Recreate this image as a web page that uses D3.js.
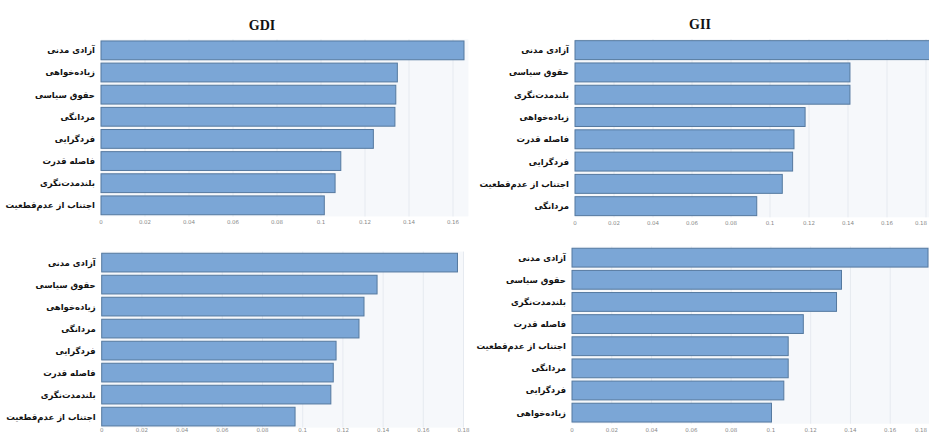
<!DOCTYPE html>
<html>
<head>
<meta charset="utf-8">
<script src="https://cdn.jsdelivr.net/npm/d3@7"></script>
<style>
  html, body { margin: 0; padding: 0; background: #ffffff; }
  svg { display: block; }
</style>
</head>
<body>
<svg id="chart" width="929" height="433"></svg>
<script>
// ---------- DATA ----------
const titleTopLeft = "GDI";
const titleTopRight = "GII";

const catsTopLeft = ["آزادی مدنی", "زیاده\u200cخواهی", "حقوق سیاسی", "مردانگی", "فردگرایی", "فاصله قدرت", "بلندمدت\u200cنگری", "اجتناب از عدم\u200cقطعیت"];
const valsTopLeft = [0.165, 0.1347, 0.134, 0.1336, 0.1238, 0.109, 0.1064, 0.1015];
const ticksTopLeft = [0, 0.02, 0.04, 0.06, 0.08, 0.1, 0.12, 0.14, 0.16];

const catsTopRight = ["آزادی مدنی", "حقوق سیاسی", "بلندمدت\u200cنگری", "زیاده\u200cخواهی", "فاصله قدرت", "فردگرایی", "اجتناب از عدم\u200cقطعیت", "مردانگی"];
const valsTopRight = [0.19, 0.141, 0.141, 0.118, 0.1123, 0.1116, 0.1063, 0.0932];
const ticksTopRight = [0, 0.02, 0.04, 0.06, 0.08, 0.1, 0.12, 0.14, 0.16, 0.18];

const catsBottomLeft = ["آزادی مدنی", "حقوق سیاسی", "زیاده\u200cخواهی", "مردانگی", "فردگرایی", "فاصله قدرت", "بلندمدت\u200cنگری", "اجتناب از عدم\u200cقطعیت"];
const valsBottomLeft = [0.177, 0.137, 0.1305, 0.128, 0.1166, 0.1152, 0.114, 0.0962];
const ticksBottomLeft = [0, 0.02, 0.04, 0.06, 0.08, 0.1, 0.12, 0.14, 0.16, 0.18];

const catsBottomRight = ["آزادی مدنی", "حقوق سیاسی", "بلندمدت\u200cنگری", "فاصله قدرت", "اجتناب از عدم\u200cقطعیت", "مردانگی", "فردگرایی", "زیاده\u200cخواهی"];
const valsBottomRight = [0.179, 0.1355, 0.133, 0.1163, 0.1087, 0.1087, 0.1065, 0.1003];
const ticksBottomRight = [0, 0.02, 0.04, 0.06, 0.08, 0.1, 0.12, 0.14, 0.16, 0.18];

// ---------- LAYOUT ----------
const W = 929, H = 433;
const panels = [
  { cats: catsTopLeft, vals: valsTopLeft, ticks: ticksTopLeft, xDomain: [0, 0.167], xRange: [101, 468.4], yRange: [39.3, 216.4], title: titleTopLeft, titleX: 262, titleY: 30 },
  { cats: catsTopRight, vals: valsTopRight, ticks: ticksTopRight, xDomain: [0, 0.2], xRange: [575, 965], yRange: [39.0, 217.3], title: titleTopRight, titleX: 700, titleY: 29 },
  { cats: catsBottomLeft, vals: valsBottomLeft, ticks: ticksBottomLeft, xDomain: [0, 0.18], xRange: [101.7, 463.5], yRange: [251.6, 427.6] },
  { cats: catsBottomRight, vals: valsBottomRight, ticks: ticksBottomRight, xDomain: [0, 0.18], xRange: [572, 930], yRange: [246.6, 423.7] }
];

const svg = d3.select("#chart");
const fmt = d => d === 0 ? "0" : String(+d.toFixed(2));

panels.forEach(p => {
  const x = d3.scaleLinear().domain(p.xDomain).range(p.xRange);
  const y = d3.scaleBand().domain(p.cats).range(p.yRange).paddingInner(0.15).paddingOuter(0.075);
  const g = svg.append("g");

  // plot background
  g.append("rect")
    .attr("x", p.xRange[0]).attr("y", p.yRange[0])
    .attr("width", p.xRange[1] - p.xRange[0]).attr("height", p.yRange[1] - p.yRange[0])
    .attr("fill", "#f6f8fb");

  // vertical gridlines
  g.selectAll("line.grid").data(p.ticks.filter(t => t > 0)).enter().append("line")
    .attr("x1", d => x(d)).attr("x2", d => x(d))
    .attr("y1", p.yRange[0]).attr("y2", p.yRange[1])
    .attr("stroke", "#e6eaf0").attr("stroke-width", 1);

  // bars
  g.selectAll("rect.bar").data(p.cats).enter().append("rect")
    .attr("x", x(0))
    .attr("y", d => y(d))
    .attr("width", (d, i) => x(p.vals[i]) - x(0))
    .attr("height", y.bandwidth())
    .attr("fill", "#7ba6d6")
    .attr("stroke", "#55799f")
    .attr("stroke-width", 1);

  // category labels
  g.selectAll("text.cat").data(p.cats).enter().append("text")
    .attr("x", x(0) - 6)
    .attr("y", d => y(d) + y.bandwidth() / 2)
    .attr("dy", "0.35em")
    .attr("text-anchor", "end")
    .attr("font-family", "DejaVu Sans, sans-serif")
    .attr("font-weight", "bold")
    .attr("font-size", 8.5)
    .attr("fill", "#111")
    .text(d => d);

  // x-axis tick labels
  const tickY = Math.min(p.yRange[1] + 8, H - 1.5);
  g.selectAll("text.tick").data(p.ticks).enter().append("text")
    .attr("x", d => Math.min(x(d), W - 8))
    .attr("y", tickY)
    .attr("text-anchor", "middle")
    .attr("font-family", "DejaVu Sans, sans-serif")
    .attr("font-size", 5.5)
    .attr("fill", "#8a8a8a")
    .text(fmt);

  if (p.title) {
    g.append("text")
      .attr("x", p.titleX).attr("y", p.titleY)
      .attr("text-anchor", "middle")
      .attr("font-family", "Liberation Serif, serif")
      .attr("font-weight", "bold")
      .attr("font-size", 14)
      .attr("fill", "#111")
      .text(p.title);
  }
});
</script>
</body>
</html>
